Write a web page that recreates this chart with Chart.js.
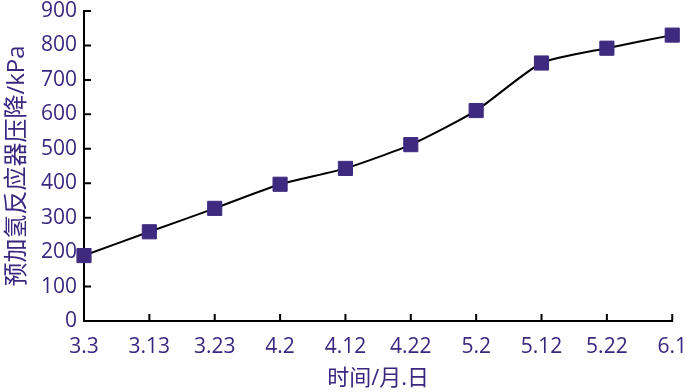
<!DOCTYPE html>
<html>
<head>
<meta charset="utf-8">
<script src="https://cdn.jsdelivr.net/npm/chart.js@4"></script>
<style>
  html, body { margin: 0; padding: 0; background: #fff; }
  #wrap { width: 700px; height: 392px; }
</style>
</head>
<body>
<div id="wrap"><canvas id="pressure-chart"></canvas></div>
<script>
// 日期（月.日）
const dates = ["3.3", "3.13", "3.23", "4.2", "4.12", "4.22", "5.2", "5.12", "5.22", "6.1"];
// 预加氢反应器压降 kPa
const pressureDrop = [190, 259, 327, 397, 443, 512, 611, 749, 792, 830];

const yMin = 0;
const yMax = 900;
const yStep = 100;

const textColor = "#3a2780";
const markerColor = "#3e2b80";
const fontFamily = "'Open Sans', 'Noto Sans CJK SC', sans-serif";

// 坐标轴内侧刻度线
const innerTicks = {
  id: "innerTicks",
  beforeDatasetsDraw(chart) {
    const { ctx, scales: { x, y } } = chart;
    const len = 7;
    ctx.save();
    ctx.strokeStyle = "#000";
    ctx.lineWidth = 2;
    ctx.beginPath();
    for (let i = 1; i < dates.length; i++) {
      const px = x.getPixelForTick(i);
      ctx.moveTo(px, y.bottom);
      ctx.lineTo(px, y.bottom - len);
    }
    y.ticks.forEach(t => {
      if (t.value <= yMin) return;
      const py = y.getPixelForValue(t.value);
      ctx.moveTo(x.left, py);
      ctx.lineTo(x.left + len, py);
    });
    ctx.stroke();
    ctx.restore();
  }
};

const ctx = document.getElementById("pressure-chart").getContext("2d");
new Chart(ctx, {
  type: "line",
  data: {
    labels: dates,
    datasets: [{
      data: pressureDrop,
      borderColor: "#000",
      borderWidth: 2,
      tension: 0.2,
      pointStyle: "rect",
      pointRadius: 10,
      pointBackgroundColor: markerColor,
      pointBorderColor: markerColor,
      pointBorderWidth: 1,
      clip: false,
    }],
  },
  options: {
    responsive: true,
    maintainAspectRatio: false,
    animation: false,
    layout: { padding: { top: 11, right: 22, bottom: 0, left: 0 } },
    plugins: {
      legend: { display: false },
      tooltip: { enabled: false },
    },
    scales: {
      x: {
        offset: false,
        grid: { display: false, drawTicks: false },
        border: { display: true, color: "#000", width: 2 },
        ticks: {
          color: textColor,
          font: { family: fontFamily, size: 21 },
          padding: 13,
          maxRotation: 0,
          autoSkip: false,
        },
        title: {
          display: true,
          text: "时间/月.日",
          color: textColor,
          font: { family: fontFamily, size: 22 },
          padding: { top: 0, bottom: 0 },
        },
        afterFit(scale) { scale.height = 71; },
      },
      y: {
        min: yMin,
        max: yMax,
        grid: { display: false, drawTicks: false },
        border: { display: true, color: "#000", width: 2 },
        ticks: {
          stepSize: yStep,
          color: textColor,
          font: { family: fontFamily, size: 21 },
          padding: 7,
        },
        title: {
          display: true,
          text: "预加氢反应器压降/kPa",
          color: textColor,
          font: { family: fontFamily, size: 24 },
          padding: { top: 3, bottom: 0 },
        },
        afterFit(scale) {
          scale.width = 84;
          scale.paddingTop = 0;
        },
      },
    },
  },
  plugins: [innerTicks],
});
</script>
</body>
</html>
